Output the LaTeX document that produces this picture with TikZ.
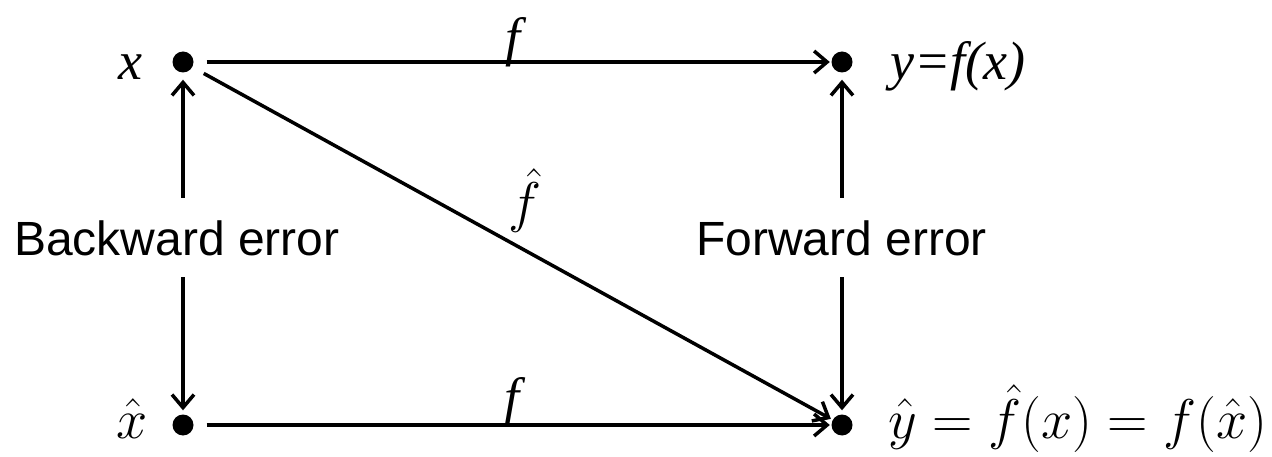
\RequirePackage{fix-cm}
\documentclass[tikz,border=0pt]{standalone}
\usepackage{fontspec}
\setmainfont{Liberation Serif}
\newfontfamily\arialfont{Liberation Sans}
\usetikzlibrary{arrows.meta}
\begin{document}
\begin{tikzpicture}[x=1pt,y=-1pt,
  dot/.style={circle,fill=black,inner sep=0pt,minimum size=21pt},
  conn/.style={line width=3.5pt,-{Straight Barb[length=13pt,width=22pt]}},
  tlbl/.style={font=\fontsize{54}{60}\selectfont\itshape,inner sep=0pt},
  mlbl/.style={font=\fontsize{56}{64}\selectfont,inner sep=0pt},
  errlbl/.style={font=\fontsize{48}{56}\selectfont\arialfont,inner xsep=0pt,inner ysep=22pt,text height=35pt,text depth=0pt}]
\useasboundingbox (0,0) rectangle (1272,457);
\node[dot] (x) at (183,62) {};
\node[dot] (y) at (842,62) {};
\node[dot] (xh) at (183,425) {};
\node[dot] (yh) at (842,425) {};
\node[tlbl,anchor=base east] (xl) at (143,80) {x};
\node[tlbl,anchor=base west] (yl) at (890,80) {y=f(x)};
\node[mlbl,anchor=base east] (xhl) at (148,438) {$\hat{x}$};
\node[mlbl,anchor=base west] (yhl) at (888,438) {$\hat{y}=\hat{f}(x)=f(\hat{x})$};
\node[errlbl] (be) at (177,237.5) {Backward error};
\node[errlbl] (fe) at (841.5,237.5) {Forward error};
\node[tlbl,anchor=base] (ftop) at (513,56) {f};
\node[tlbl,anchor=base] (fbot) at (512,415) {f};
\node[mlbl,anchor=base] (fhat) at (525,222) {$\hat{f}$};
\draw[conn,shorten <=13pt,shorten >=1.5pt] (x) -- (y);
\draw[conn,shorten <=13pt,shorten >=1.5pt] (xh) -- (yh);
\draw[conn,shorten <=13pt,shorten >=2pt] (x) -- (yh);
\draw[conn,shorten >=7pt] (be.north -| x) -- (x);
\draw[conn,shorten >=4pt] (be.south -| xh) -- (xh);
\draw[conn,shorten >=7pt] (fe.north -| y) -- (y);
\draw[conn,shorten >=4pt] (fe.south -| yh) -- (yh);
\end{tikzpicture}
\end{document}
